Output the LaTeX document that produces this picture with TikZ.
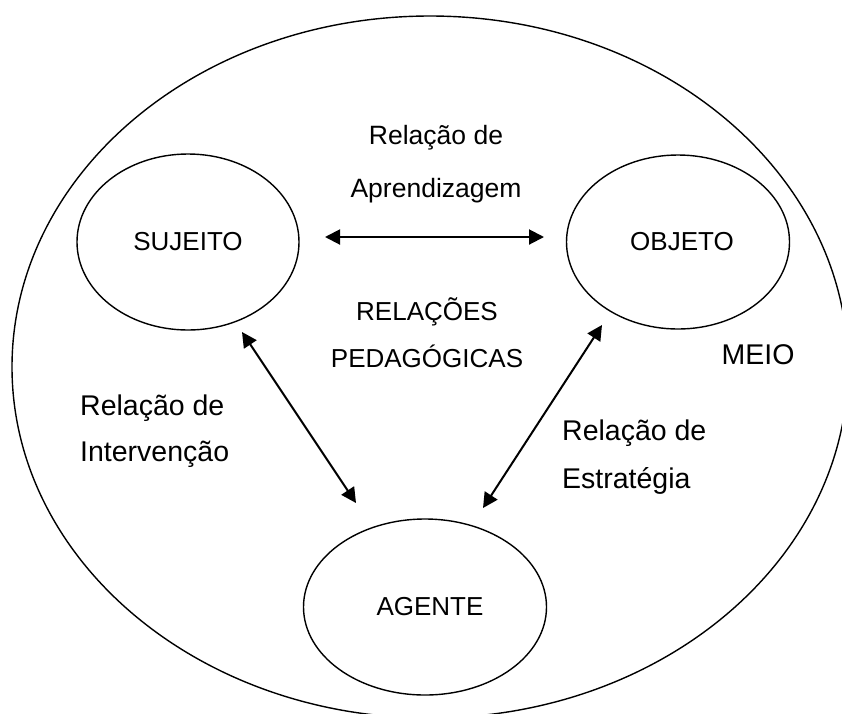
\documentclass[tikz,border=0pt]{standalone}
\usepackage{fontspec}
\setmainfont{Liberation Sans}
\usetikzlibrary{shapes.geometric,arrows.meta}
\tikzset{>={Triangle[length=15pt,width=15pt]}}
\tikzset{
  polo/.style={draw, ellipse, line width=1.4pt, inner sep=0pt,
    minimum width=222pt, minimum height=176pt,
    font=\fontsize{26}{30}\selectfont},
  rotulo/.style={inner sep=0pt, font=\fontsize{26}{#1}\selectfont},
  rotulo/.default=47,
  rotulo grande/.style={inner sep=0pt, font=\fontsize{28.5}{#1}\selectfont},
  relacao/.style={<->, line width=2pt}
}

\begin{document}
\begin{tikzpicture}[x=1pt,y=-1pt]
    \useasboundingbox (0,0) rectangle (842,713);
    \clip (0,0) rectangle (842,713);
    % meio
    \draw[line width=1.4pt] (430,367) ellipse [x radius=418pt, y radius=351pt];
    \node[rotulo grande=30] (meio) at (758,355) {MEIO};
    % polos
    \node[polo] (sujeito) at (188,242) {SUJEITO};
    \node[polo, minimum width=223pt, minimum height=174pt] (objeto) at (678,242) {\hspace*{8pt}OBJETO};
    \node[polo, minimum width=243pt] (agente) at (425,607) {\hspace*{10pt}AGENTE};
    % relacoes
    \coordinate (sjA) at (325,237);
    \coordinate (obA) at (544,237);
    \coordinate (sjI) at (242,332);
    \coordinate (agI) at (356,503);
    \coordinate (obE) at (602,325);
    \coordinate (agE) at (483,508);
    \draw[relacao] (sjA) -- (obA);
    \draw[relacao] (sjI) -- (agI);
    \draw[relacao] (obE) -- (agE);
    \node[rotulo=53, font=\fontsize{26.5}{53}\selectfont, align=center] (aprend) at (436,164) {Relação de\\Aprendizagem};
    \node[rotulo, align=center] (pedag) at (427,333) {RELAÇÕES\\PEDAGÓGICAS};
    \node[rotulo grande=46, align=left, anchor=west] (interv) at (80,431) {Relação de\\Intervenção};
    \node[rotulo grande=48, align=left, anchor=west] (estrat) at (562,457) {Relação de\\Estratégia};
\end{tikzpicture}
\end{document}
